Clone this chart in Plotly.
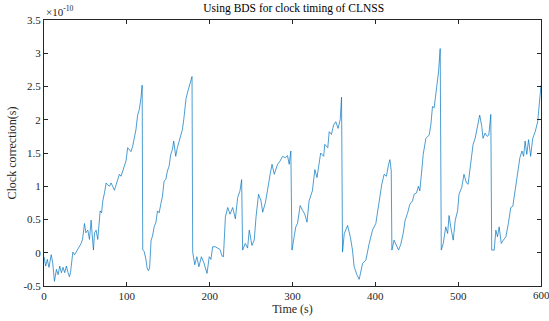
import plotly.graph_objects as go

time_s = [
    0, 2, 4, 6, 8.7, 10.5, 12.6, 15, 17, 19, 21, 23, 25, 27, 29, 30.7, 32, 34.8, 37, 39,
    41, 43, 44.8, 46.5, 48.9, 50.5, 52.9, 54.9, 56.9, 58, 59.7, 61, 62.9, 64.9, 67.8, 69.5,
    71, 73, 75, 77, 79, 81, 83, 85, 87, 89, 91, 93, 95, 97, 99, 101, 103, 105, 107, 109,
    111, 113, 115, 117, 118.5,
    119.2, 121, 123, 124.5, 126, 127.5, 129.3, 131, 133, 135, 137, 139, 141, 143, 145, 147,
    149, 151, 153, 155, 156.6, 158, 159, 161, 162, 164, 165.5, 167, 168.7, 170, 171.5,
    173.5, 175.5, 177, 178.7,
    179.5, 182, 184.5, 187, 190, 193, 196.8, 199.5, 201.5, 203.6, 206.8, 209.6, 212.4, 215,
    216.6, 219, 221.8, 224.6, 227.8, 231, 233.8, 236.6, 238.6,
    239.8, 243, 245.8, 247.8, 251, 253.8, 256, 259, 262, 264, 267.4, 270, 273, 275.3, 278,
    282, 285, 288, 291, 294, 296, 298,
    299.4, 302, 304, 306, 309.3, 312, 314.8, 317.5, 320, 324, 327, 329.6, 332.3, 334, 337.6,
    339, 342.6, 344.3, 347, 349.6, 352.3, 355, 357.6, 359.2,
    360.4, 362.5, 366.5, 369.8, 372.4, 374.4, 377.7, 380.5, 384.6, 388.6, 392.6, 396.6,
    400.6, 404.6, 407.8, 410.6, 413.4, 416, 417.6, 419.2,
    420, 422.6, 425.5, 428, 430.6, 433.6, 436, 438.8, 441.7, 444.9, 446.9, 449.7, 452,
    453.7, 456, 457.8, 461, 465, 467, 469, 471, 473, 476.3, 478.3,
    479.6, 482, 485, 487.3, 489, 491, 494, 496.5, 499.3, 501, 504.3, 507, 510, 512, 515.3,
    518, 520.5, 523.3, 526, 528.5, 530, 532.5, 535, 537, 539.4,
    540.5, 543.5, 545.5, 547.5, 549.5, 552, 554.5, 557.6, 560.6, 563.5, 566, 569.5, 572,
    574.5, 577, 579, 580.8, 582.8, 585, 587.5, 590, 593, 596, 598, 600,
]

clock_corr = [
    -0.06, -0.2, -0.1, -0.22, -0.03, -0.15, -0.43, -0.25, -0.33, -0.2, -0.3, -0.22, -0.3,
    -0.2, -0.3, -0.36, -0.3, 0.01, -0.03, 0.01, 0.06, 0.1, 0.14, 0.2, 0.44, 0.3, 0.34, 0.2,
    0.49, 0.3, 0.04, 0.3, 0.34, 0.2, 0.63, 0.6, 0.78, 0.9, 1.05, 1.02, 1.0, 1.05, 0.98, 0.94,
    1.02, 1.1, 1.18, 1.15, 1.23, 1.33, 1.38, 1.58, 1.55, 1.52, 1.6, 1.72, 1.85, 2.07, 2.15,
    2.32, 2.52,
    0.04, 0.02, -0.1, -0.23, -0.27, -0.23, 0.19, 0.25, 0.39, 0.45, 0.63, 0.6, 0.73, 0.85,
    1.08, 1.1, 1.23, 1.3, 1.48, 1.55, 1.68, 1.55, 1.45, 1.58, 1.63, 1.7, 1.77, 1.85, 2.0,
    2.15, 2.32, 2.42, 2.52, 2.57, 2.65,
    0.01, -0.18, -0.06, -0.21, -0.06, -0.15, -0.31, -0.06, -0.1, 0.09, 0.09, 0.07, 0.05,
    -0.05, -0.06, 0.54, 0.68, 0.58, 0.68, 0.51, 0.83, 0.93, 1.1,
    0.04, 0.14, 0.07, 0.34, 0.11, 0.19, 0.54, 0.88, 0.78, 0.61, 0.76, 0.98, 1.18, 1.33,
    1.18, 1.33, 1.38, 1.45, 1.43, 1.46, 1.33, 1.53,
    0.04, 0.24, 0.39, 0.44, 0.71, 0.64, 0.58, 0.46, 0.78, 0.93, 1.25, 1.13, 1.38, 1.5,
    1.45, 1.63, 1.58, 1.82, 1.78, 1.92, 1.97, 1.87, 2.0, 2.34,
    0.01, 0.29, 0.41, 0.24, 0.04, -0.21, -0.33, -0.4, -0.16, -0.11, 0.14, 0.34, 0.44,
    0.78, 1.03, 1.18, 1.15, 1.33, 1.4, 1.23,
    0.04, 0.19, 0.12, 0.04, 0.12, 0.29, 0.49, 0.59, 0.73, 0.78, 0.88, 0.9, 1.0, 0.93,
    1.23, 1.48, 1.72, 1.77, 1.92, 2.2, 2.18, 2.42, 2.72, 3.07,
    0.04, 0.14, 0.39, 0.29, 0.56, 0.39, 0.19, 0.49, 0.63, 0.88, 0.98, 1.18, 1.05, 1.03,
    1.33, 1.63, 1.72, 1.9, 2.07, 1.9, 1.72, 1.8, 1.75, 1.77, 2.08,
    0.04, 0.04, 0.34, 0.24, 0.39, 0.14, 0.19, 0.24, 0.44, 0.68, 0.7, 0.98, 1.23, 1.43,
    1.53, 1.45, 1.68, 1.48, 1.7, 1.45, 1.72, 1.82, 1.97, 2.22, 2.52,
]

x_ticks = [0, 100, 200, 300, 400, 500, 600]
x_tick_labels = ["0", "100", "200", "300", "400", "500", ""]
y_ticks = [-0.5, 0, 0.5, 1, 1.5, 2, 2.5, 3, 3.5]
y_tick_labels = ["-0.5", "0", "0.5", "1", "1.5", "2", "2.5", "3", "3.5"]
last_x_label = "600"

FONT = "Liberation Serif"
AX = "#262626"

fig = go.Figure()
fig.add_trace(go.Scatter(
    x=time_s, y=clock_corr, mode="lines",
    line=dict(color="#0072BD", width=0.7),
    showlegend=False,
))

axis_common = dict(
    showline=True, linecolor=AX, linewidth=1, mirror="ticks",
    ticks="inside", ticklen=4, tickcolor=AX, showgrid=False, zeroline=False,
    tickfont=dict(family=FONT, size=11, color=AX),
)

fig.update_layout(
    width=549, height=321,
    margin=dict(l=44, r=7, t=20, b=32),
    paper_bgcolor="white", plot_bgcolor="white",
    title=dict(text="Using BDS for clock timing of CLNSS",
               font=dict(family=FONT, size=11.5, color="black"),
               x=0.535, xanchor="center", y=0.975, yanchor="middle"),
    xaxis=dict(range=[0, 600], tickvals=x_ticks, ticktext=x_tick_labels,
               title=dict(text="Time (s)", font=dict(family=FONT, size=12, color=AX), standoff=3),
               **axis_common),
    yaxis=dict(range=[-0.5, 3.5], tickvals=y_ticks, ticktext=y_tick_labels,
               title=dict(text="Clock correction(s)", font=dict(family=FONT, size=12, color=AX), standoff=4),
               **axis_common),
    annotations=[
        dict(text="×10<sup>-10</sup>", xref="paper", yref="paper",
             x=0, y=1, xanchor="left", yanchor="bottom", showarrow=False,
             font=dict(family=FONT, size=11, color=AX)),
        dict(text=last_x_label, xref="x", yref="paper",
             x=x_ticks[-1], y=0, xanchor="center", yanchor="top", yshift=-1,
             showarrow=False, font=dict(family=FONT, size=11, color=AX)),
    ],
)

fig.write_html("out.html")
